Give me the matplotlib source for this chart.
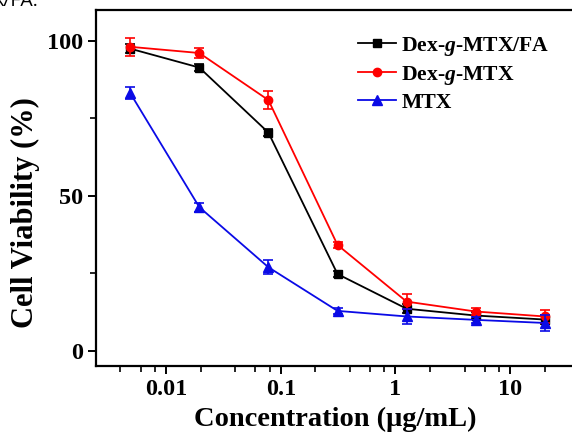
import matplotlib
matplotlib.use("Agg")
import matplotlib.pyplot as plt
import numpy as np
from matplotlib.ticker import LogLocator, FixedLocator, NullFormatter

plt.rcParams['font.family'] = ['Liberation Serif', 'DejaVu Serif']
plt.rcParams['font.weight'] = 'bold'
plt.rcParams['mathtext.fontset'] = 'custom'
plt.rcParams['mathtext.rm'] = 'Liberation Serif:bold'
plt.rcParams['mathtext.it'] = 'Liberation Serif:italic:bold'
plt.rcParams['mathtext.bf'] = 'Liberation Serif:bold'

# Data
conc = [0.00488, 0.0195, 0.078, 0.3125, 1.25, 5, 20]
series_labels = [r'Dex-$\mathit{g}$-MTX/FA', r'Dex-$\mathit{g}$-MTX', 'MTX']
dex_fa = [97.5, 91.4, 70.4, 24.7, 13.5, 11.3, 10.0]
dex_fa_err = [1.5, 1.0, 1.0, 1.0, 1.5, 1.0, 1.5]
dex = [98.1, 96.1, 80.9, 34.1, 15.8, 12.6, 11.0]
dex_err = [3.0, 1.5, 3.0, 1.0, 2.5, 1.0, 2.0]
mtx = [83.1, 46.3, 26.9, 12.8, 11.0, 9.9, 8.9]
mtx_err = [2.0, 1.5, 2.2, 1.0, 2.5, 1.0, 2.5]
xticks = [0.01, 0.1, 1, 10]
xticklabels = ['0.01', '0.1', '1', '10']
yticks = [0, 50, 100]

fig = plt.figure(figsize=(5.72, 4.34), dpi=100)
ax = fig.add_axes([0.1678, 0.1567, 0.8357, 0.8203])

styles = [('black', 's', 5.5), ('red', 'o', 6), ('#0a0ae6', '^', 6.5)]
for vals, errs, lab, (c, m, ms) in zip([dex_fa, dex, mtx], [dex_fa_err, dex_err, mtx_err],
                                       series_labels, styles):
    ax.errorbar(conc, vals, yerr=errs, fmt='none', ecolor=c,
                elinewidth=1.2, capsize=3.5, capthick=1.2)
    ax.plot(conc, vals, color=c, marker=m, markersize=ms, linewidth=1.3, label=lab)

ax.set_xscale('log')
ax.set_xlim(0.00245, 36)
ax.set_ylim(-5, 110)
ax.xaxis.set_major_locator(FixedLocator(xticks))
ax.set_xticklabels(xticklabels)
ax.xaxis.set_minor_locator(LogLocator(base=10, subs=[2, 4, 6, 8]))
ax.xaxis.set_minor_formatter(NullFormatter())
ax.set_yticks(yticks)
ax.set_yticks([25, 75], minor=True)

for s in ax.spines.values():
    s.set_linewidth(1.6)
ax.tick_params(which='major', direction='out', length=6, width=1.4, labelsize=17.5)
ax.tick_params(which='minor', direction='out', length=4, width=1.2)
for lbl in ax.get_xticklabels() + ax.get_yticklabels():
    lbl.set_fontweight('bold')

ax.set_xlabel('Concentration (μg/mL)', fontsize=20.5, fontweight='bold', labelpad=5)
ax.set_ylabel('Cell Viability (%)', fontsize=22, fontweight='bold')
ax.yaxis.set_label_coords(-0.117, 0.43)

leg = ax.legend(loc='upper left', bbox_to_anchor=(0.53, 0.955), frameon=False,
                fontsize=15.6, handlelength=1.77, handletextpad=0.23, labelspacing=0.27,
                borderaxespad=0)
for t in leg.get_texts():
    t.set_fontweight('bold')

fig.text(-0.012, 0.998, 'X/FA.', fontsize=14, va='center', ha='left',
         family=['Open Sans', 'DejaVu Sans'], fontweight='normal')

fig.savefig('out.png', dpi=100)
